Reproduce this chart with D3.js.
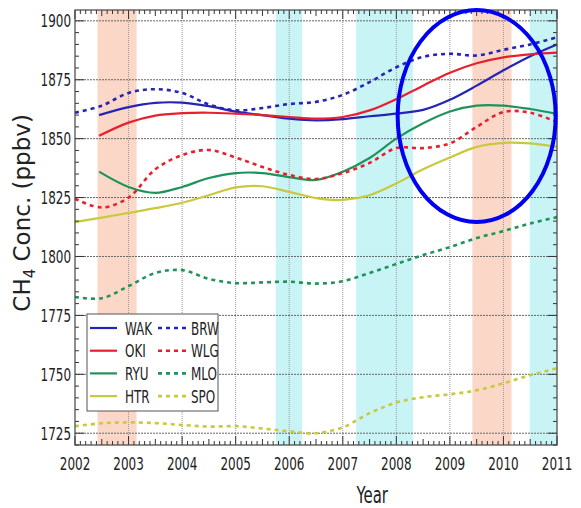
<!DOCTYPE html>
<html>
<head>
<meta charset="utf-8">
<script src="https://cdn.jsdelivr.net/npm/d3@7"></script>
<style>
  body { margin: 0; background: #fff; }
  text { font-family: "Liberation Sans Narrow", "DejaVu Sans Condensed", sans-serif; fill: #222; }
</style>
</head>
<body>
<script>
// sample years (ship records start mid 2002)
const fullYears = [2002, 2002.5, 2003, 2003.5, 2004, 2004.5, 2005, 2005.5, 2006, 2006.5, 2007, 2007.5, 2008, 2008.5, 2009, 2009.5, 2010, 2010.5, 2011];
const shipYears = [2002.45, 2003, 2003.5, 2004, 2004.5, 2005, 2005.5, 2006, 2006.5, 2007, 2007.5, 2008, 2008.5, 2009, 2009.5, 2010, 2010.5, 2011];

const WAK = [1860, 1863.4, 1865.2, 1865.3, 1863.8, 1861.5, 1860, 1858.5, 1857.8, 1858.3, 1859.5, 1860.6, 1862.2, 1866.5, 1872.5, 1879, 1885, 1890];
const OKI = [1851.2, 1856.8, 1859.8, 1860.8, 1861, 1860.6, 1860, 1859.2, 1858.5, 1859.2, 1862, 1866.8, 1872.5, 1878, 1882, 1884.5, 1885.8, 1886.5];
const RYU = [1836, 1829.5, 1827, 1829.5, 1833.3, 1835.4, 1835.4, 1833.7, 1832.5, 1836, 1841.8, 1850, 1856.5, 1861.5, 1864, 1864, 1862.6, 1860.5];
const HTR = [1814.6, 1816.5, 1818.5, 1820.5, 1822.8, 1826, 1829.3, 1829.8, 1827.4, 1824.8, 1824, 1826, 1831, 1837, 1842, 1846.5, 1848.2, 1848, 1846.5];
const BRW = [1861, 1864, 1869.4, 1871, 1869.4, 1864.5, 1862, 1863, 1864.7, 1865.6, 1868.6, 1874, 1880.3, 1884.7, 1886, 1885.3, 1887.7, 1890, 1893];
const WLG = [1824.5, 1820.8, 1825, 1837, 1843, 1845.2, 1842, 1838, 1834.6, 1832.9, 1835.4, 1839.7, 1846, 1846, 1848, 1855, 1861.3, 1861, 1857];
const MLO = [1782.8, 1782.3, 1787.4, 1793, 1794.2, 1790.5, 1788.7, 1789, 1789.3, 1788.5, 1789.5, 1793, 1796.8, 1800.6, 1804, 1807.8, 1810.8, 1814, 1816.7];
const SPO = [1728, 1729.2, 1729.6, 1729.3, 1728.5, 1727.8, 1728, 1727, 1725.8, 1725, 1727.5, 1733.5, 1738, 1740.3, 1741.5, 1743.2, 1746.2, 1749.6, 1752.6];

// shaded periods [start, end, kind]
const periods = [[2002.42, 2003.15, "warm"], [2005.75, 2006.24, "cold"], [2007.25, 2008.31, "cold"], [2009.42, 2010.15, "warm"], [2010.49, 2011, "cold"]];

const xTicks = d3.range(2002, 2012);
const yTicks = [1725, 1750, 1775, 1800, 1825, 1850, 1875, 1900];

const series = [
  {name: "WAK", x: shipYears, y: WAK, color: "#2424b8", dash: null},
  {name: "OKI", x: shipYears, y: OKI, color: "#e8202c", dash: null},
  {name: "RYU", x: shipYears, y: RYU, color: "#20935a", dash: null},
  {name: "HTR", x: fullYears, y: HTR, color: "#c9c93c", dash: null},
  {name: "BRW", x: fullYears, y: BRW, color: "#2424b8", dash: "4,4"},
  {name: "WLG", x: fullYears, y: WLG, color: "#e8202c", dash: "4,4"},
  {name: "MLO", x: fullYears, y: MLO, color: "#20935a", dash: "4,4"},
  {name: "SPO", x: fullYears, y: SPO, color: "#c9c93c", dash: "4,4"}
];

const width = 581, height = 508;
const m = {left: 75, right: 24, top: 10, bottom: 63};
const SQ = 0.74; // horizontal squeeze for labels, no narrow font installed

const svg = d3.select("body").append("svg")
  .attr("width", width)
  .attr("height", height);

const x = d3.scaleLinear().domain([2002, 2011]).range([m.left, width - m.right]);
const y = d3.scaleLinear().domain([1720, 1904.6]).range([height - m.bottom, m.top]);

const color = {warm: "#fbd7c8", cold: "#c8f4f6"};

//shaded bands
svg.append("g").selectAll("rect")
  .data(periods)
  .join("rect")
  .attr("x", d => x(d[0]))
  .attr("width", d => x(d[1]) - x(d[0]))
  .attr("y", m.top)
  .attr("height", y.range()[0] - m.top)
  .attr("fill", d => color[d[2]]);

// grid
svg.append("g").selectAll("line")
  .data(xTicks.slice(1, -1))
  .join("line")
  .attr("x1", d => x(d)).attr("x2", d => x(d))
  .attr("y1", m.top).attr("y2", y.range()[0])
  .attr("stroke", "#999").attr("stroke-dasharray", "1,1");

svg.append("g").selectAll("line")
  .data(yTicks)
  .join("line")
  .attr("x1", m.left).attr("x2", width - m.right)
  .attr("y1", d => y(d)).attr("y2", d => y(d))
  .attr("stroke", "#666").attr("stroke-dasharray", "2,1");

// curves
const line = d3.line().curve(d3.curveCatmullRom.alpha(0.5));

svg.append("g").selectAll("path")
  .data(series)
  .join("path")
  .attr("d", s => line(s.x.map((v, i) => [x(v), y(s.y[i])])))
  .attr("fill", "none")
  .attr("stroke", s => s.color)
  .attr("stroke-width", s => s.dash ? 2.6 : 2.2)
  .attr("stroke-dasharray", s => s.dash);

// axes - ticks inside on all four sides
const bottom = y.range()[0], right = x.range()[1];
const xMinor = d3.range(2002, 2011.001, 0.1);
const yMinor = d3.range(1720, 1904, 5);

const tk = svg.append("g").attr("stroke", "#333");
tk.selectAll(".xb").data(xMinor).join("line")
  .attr("x1", d => x(d)).attr("x2", d => x(d))
  .attr("y1", bottom).attr("y2", (d, i) => bottom - (i % 10 == 0 ? 9 : i % 5 == 0 ? 6 : 4));
tk.selectAll(".xt").data(xMinor).join("line")
  .attr("x1", d => x(d)).attr("x2", d => x(d))
  .attr("y1", m.top).attr("y2", (d, i) => m.top + (i % 10 == 0 ? 9 : i % 5 == 0 ? 6 : 4));
tk.selectAll(".yl").data(yMinor).join("line")
  .attr("y1", d => y(d)).attr("y2", d => y(d))
  .attr("x1", m.left).attr("x2", d => m.left + (d % 25 == 0 ? 9 : 4));
tk.selectAll(".yr").data(yMinor).join("line")
  .attr("y1", d => y(d)).attr("y2", d => y(d))
  .attr("x1", right).attr("x2", d => right - (d % 25 == 0 ? 9 : 4));

svg.append("rect")
  .attr("x", m.left).attr("y", m.top)
  .attr("width", right - m.left).attr("height", bottom - m.top)
  .attr("fill", "none").attr("stroke", "#444").attr("stroke-width", 1.2);

// tick labels
svg.append("g").selectAll("text")
  .data(xTicks)
  .join("text")
  .attr("transform", d => `translate(${x(d)}, ${bottom + 25}) scale(${SQ}, 1)`)
  .attr("text-anchor", "middle")
  .attr("font-size", 18)
  .text(d => d);

svg.append("g").selectAll("text")
  .data(yTicks)
  .join("text")
  .attr("transform", d => `translate(${m.left - 4}, ${y(d) + 6.5}) scale(${SQ}, 1)`)
  .attr("text-anchor", "end")
  .attr("font-size", 18)
  .text(d => d);

svg.append("text")
  .attr("transform", `translate(${x(2007.55)}, 503) scale(0.72, 1)`)
  .attr("text-anchor", "middle")
  .attr("font-size", 23)
  .text("Year");

const yl = svg.append("text")
  .attr("transform", `translate(30, ${y(1818.5)}) rotate(-90)`)
  .attr("text-anchor", "middle")
  .style("font-family", "'DejaVu Sans', sans-serif")
  .attr("font-size", 23);
yl.append("tspan").text("CH");
yl.append("tspan").attr("font-size", 15).attr("dy", 5).text("4");
yl.append("tspan").attr("dy", -5).text(" Conc. (ppbv)");

// legend
const lg = svg.append("g").attr("transform", "translate(87, 314)");
lg.append("rect").attr("width", 131).attr("height", 97)
  .attr("fill", "#fff").attr("stroke", "#555");
const item = lg.selectAll("g").data(series).join("g")
  .attr("transform", (d, i) => `translate(${i < 4 ? 3 : 71}, ${14 + (i % 4) * 22.7})`);
item.append("line")
  .attr("x1", 0).attr("x2", d => d.dash ? 30 : 27)
  .attr("stroke", d => d.color)
  .attr("stroke-width", d => d.dash ? 2.6 : 2.2)
  .attr("stroke-dasharray", d => d.dash);
item.append("text")
  .attr("transform", d => `translate(${d.dash ? 33 : 35}, 6.5) scale(${SQ}, 1)`)
  .attr("font-size", 18)
  .text(d => d.name);

// highlight ellipse
svg.append("ellipse")
  .attr("cx", x(2009.5)).attr("cy", y(1859.6))
  .attr("rx", 79).attr("ry", 106)
  .attr("fill", "none").attr("stroke", "#0000f0").attr("stroke-width", 4);
</script>
</body>
</html>
